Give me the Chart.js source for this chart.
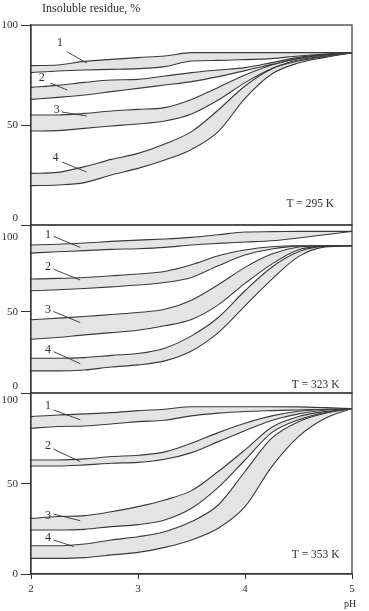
<!DOCTYPE html>
<html>
<head>
<meta charset="utf-8">
<script src="https://cdn.jsdelivr.net/npm/chart.js@4.4.1/dist/chart.umd.min.js"></script>
<style>
  html, body { margin: 0; padding: 0; background: #fff; }
  #wrap { position: relative; width: 369px; height: 611px; }
</style>
</head>
<body>
<div id="wrap"><canvas id="chart" width="369" height="611"></canvas></div>
<script>
// pH grid shared by all curves
const pH = [2.0, 2.25, 2.5, 2.75, 3.0, 3.25, 3.5, 3.75, 4.0, 4.25, 4.5, 4.75, 5.0];

// T = 295 K (hi / lo edge of each band)
const t295_1hi = [79.7, 80.0, 81.8, 82.8, 83.7, 84.5, 86.2, 86.2, 86.2, 86.2, 86.2, 86.2, 86.2];
const t295_1lo = [76.2, 77.0, 77.5, 77.8, 78.2, 79.2, 82.0, 82.3, 82.7, 83.2, 84.5, 85.5, 86.2];
const t295_2hi = [68.8, 69.8, 71.3, 72.5, 72.8, 74.5, 76.2, 77.5, 78.7, 81.2, 83.8, 85.3, 86.2];
const t295_2lo = [62.8, 63.8, 65.0, 66.7, 68.3, 70.0, 71.7, 74.2, 77.2, 80.3, 83.3, 85.0, 86.2];
const t295_3hi = [55.0, 55.0, 55.8, 57.0, 57.8, 58.7, 62.8, 68.8, 75.0, 80.0, 83.3, 85.0, 86.2];
const t295_3lo = [47.0, 47.2, 48.3, 49.5, 50.5, 52.0, 55.5, 62.5, 71.2, 78.3, 82.5, 84.5, 86.2];
const t295_4hi = [25.8, 26.3, 29.2, 32.8, 35.8, 40.5, 46.7, 57.5, 69.5, 78.0, 82.0, 84.3, 86.2];
const t295_4lo = [19.7, 20.0, 21.2, 25.0, 28.3, 32.5, 37.8, 46.7, 63.3, 75.5, 81.0, 83.8, 86.2];

// T = 323 K
const t323_1hi = [91.2, 91.6, 92.4, 93.4, 94.2, 94.9, 95.9, 97.5, 99.2, 99.4, 99.6, 99.6, 99.6];
const t323_1lo = [86.2, 87.0, 87.7, 88.5, 88.9, 89.7, 91.2, 92.2, 93.0, 93.8, 95.5, 97.5, 99.6];
const t323_2hi = [70.2, 70.6, 71.2, 72.2, 73.3, 74.9, 79.0, 84.6, 88.1, 90.1, 90.7, 90.7, 90.7];
const t323_2lo = [63.0, 63.6, 64.4, 65.4, 66.5, 68.1, 71.2, 78.4, 85.0, 88.7, 90.5, 90.7, 90.7];
const t323_3hi = [45.1, 46.1, 47.1, 48.4, 49.6, 51.6, 57.2, 66.7, 77.4, 85.6, 89.9, 90.7, 90.7];
const t323_3lo = [33.1, 34.2, 35.8, 37.2, 38.7, 41.4, 45.3, 54.3, 67.5, 79.4, 88.2, 90.5, 90.7];
const t323_4hi = [21.4, 21.4, 21.8, 23.2, 24.3, 27.6, 35.2, 46.5, 63.0, 77.5, 87.0, 90.5, 90.7];
const t323_4lo = [13.6, 13.6, 14.2, 16.0, 17.3, 19.8, 25.9, 37.2, 53.7, 70.0, 84.0, 90.0, 90.7];

// T = 353 K
const t353_1hi = [87.4, 88.3, 88.9, 89.6, 90.7, 91.5, 92.9, 92.9, 92.9, 92.9, 92.8, 92.4, 91.9];
const t353_1lo = [80.9, 81.9, 82.2, 83.3, 84.6, 85.4, 87.8, 89.3, 90.2, 90.7, 91.1, 91.5, 91.9];
const t353_2hi = [63.3, 63.3, 63.9, 65.2, 65.9, 67.8, 72.6, 78.5, 83.7, 87.8, 90.4, 91.5, 91.9];
const t353_2lo = [60.0, 60.0, 60.6, 61.5, 62.0, 63.7, 67.4, 73.5, 79.6, 85.2, 88.9, 90.9, 91.9];
const t353_3hi = [30.9, 31.9, 32.4, 34.6, 37.4, 41.1, 46.3, 56.9, 68.9, 81.5, 87.4, 90.2, 91.9];
const t353_3lo = [24.4, 24.4, 24.8, 26.3, 27.4, 30.0, 36.5, 48.1, 63.3, 78.5, 85.6, 89.6, 91.9];
const t353_4hi = [15.7, 15.7, 16.7, 18.9, 20.7, 23.5, 29.1, 38.3, 56.9, 75.4, 84.6, 89.3, 91.9];
const t353_4lo = [8.7, 8.7, 9.1, 10.6, 12.0, 14.8, 18.9, 25.4, 37.4, 59.6, 76.3, 86.5, 91.9];

const yTicks = [0, 50, 100];
const xTicks = [2, 3, 4, 5];
const temps = ['T = 295 K', 'T = 323 K', 'T = 353 K'];

const SERIF = '"Liberation Serif", "Times New Roman", serif';
const INK = '#2e2e2e';
const BAND = '#e4e4e4';

// curve numbers with leader lines, in data units
const marks295 = [
  { n: '1', tx: 2.27, ty: 91, x1: 2.34, y1: 86.5, x2: 2.52, y2: 81 },
  { n: '2', tx: 2.10, ty: 73.5, x1: 2.18, y1: 71, x2: 2.34, y2: 67.5 },
  { n: '3', tx: 2.24, ty: 57.5, x1: 2.29, y1: 56.5, x2: 2.52, y2: 54.5 },
  { n: '4', tx: 2.23, ty: 33.5, x1: 2.29, y1: 31.5, x2: 2.52, y2: 26.5 }
];
const marks323 = [
  { n: '1', tx: 2.16, ty: 97.5, x1: 2.21, y1: 96.5, x2: 2.46, y2: 89.7 },
  { n: '2', tx: 2.16, ty: 77.8, x1: 2.21, y1: 76.3, x2: 2.46, y2: 69.6 },
  { n: '3', tx: 2.16, ty: 51, x1: 2.21, y1: 50.2, x2: 2.46, y2: 43.4 },
  { n: '4', tx: 2.16, ty: 26.3, x1: 2.21, y1: 25.5, x2: 2.46, y2: 18.1 }
];
const marks353 = [
  { n: '1', tx: 2.16, ty: 93.3, x1: 2.21, y1: 91.1, x2: 2.46, y2: 85.6 },
  { n: '2', tx: 2.16, ty: 71.1, x1: 2.21, y1: 69.3, x2: 2.46, y2: 62.4 },
  { n: '3', tx: 2.16, ty: 32.2, x1: 2.21, y1: 33.3, x2: 2.46, y2: 29.6 },
  { n: '4', tx: 2.16, ty: 19.8, x1: 2.21, y1: 18.9, x2: 2.40, y2: 15.2 }
];

const panels = [
  { axis: 'y1', temp: temps[0], tempAt: [4.61, 10.5], marks: marks295,
    curves: [[t295_1hi, t295_1lo], [t295_2hi, t295_2lo], [t295_3hi, t295_3lo], [t295_4hi, t295_4lo]] },
  { axis: 'y2', temp: temps[1], tempAt: [4.66, 4.9], marks: marks323,
    curves: [[t323_1hi, t323_1lo], [t323_2hi, t323_2lo], [t323_3hi, t323_3lo], [t323_4hi, t323_4lo]] },
  { axis: 'y3', temp: temps[2], tempAt: [4.66, 10.6], marks: marks353,
    curves: [[t353_1hi, t353_1lo], [t353_2hi, t353_2lo], [t353_3hi, t353_3lo], [t353_4hi, t353_4lo]] }
];

function line(values, axis, fill) {
  return {
    data: values.map((v, i) => ({ x: pH[i], y: v })),
    yAxisID: axis,
    xAxisID: 'x',
    borderColor: '#3a3a3a',
    borderWidth: 1.1,
    pointRadius: 0,
    cubicInterpolationMode: 'monotone',
    fill: fill,
    backgroundColor: BAND
  };
}

const datasets = [];
panels.forEach(p => {
  p.curves.forEach(([hi, lo]) => {
    datasets.push(line(hi, p.axis, false));
    datasets.push(line(lo, p.axis, '-1'));
  });
});

function yAxis(max, weight, order, labels, hide100) {
  return {
    type: 'linear',
    position: 'left',
    stack: 'panels',
    stackWeight: weight,
    weight: order,
    min: 0,
    max: max,
    afterBuildTicks: s => { s.ticks = yTicks.map(v => ({ value: v })); },
    afterFit: s => { s.width = 31; },
    ticks: {
      callback: v => labels[v],
      color: INK,
      font: { family: SERIF, size: 11 },
      padding: 3
    },
    grid: {
      drawOnChartArea: false,
      tickLength: 10,
      color: c => (hide100 && c.tick && c.tick.value === 100) ? 'rgba(0,0,0,0)' : '#333'
    },
    border: { color: '#333', width: 1.2 }
  };
}

const panelDecor = {
  id: 'panelDecor',
  afterDatasetsDraw(chart) {
    const ctx = chart.ctx;
    const xs = chart.scales.x;
    ctx.save();
    panels.forEach(p => {
      const ys = chart.scales[p.axis];
      ctx.strokeStyle = '#333';
      ctx.lineWidth = 1.2;
      ctx.strokeRect(xs.left, ys.top, xs.right - xs.left, ys.bottom - ys.top);

      ctx.fillStyle = INK;
      ctx.font = '12px ' + SERIF;
      ctx.textAlign = 'center';
      ctx.textBaseline = 'middle';
      ctx.lineWidth = 0.9;
      p.marks.forEach(m => {
        ctx.fillText(m.n, xs.getPixelForValue(m.tx), ys.getPixelForValue(m.ty));
        ctx.beginPath();
        ctx.moveTo(xs.getPixelForValue(m.x1), ys.getPixelForValue(m.y1));
        ctx.lineTo(xs.getPixelForValue(m.x2), ys.getPixelForValue(m.y2));
        ctx.stroke();
      });
      ctx.font = '11.5px ' + SERIF;
      ctx.fillText(p.temp, xs.getPixelForValue(p.tempAt[0]), ys.getPixelForValue(p.tempAt[1]));
    });
    ctx.textAlign = 'left';
    ctx.font = '12px ' + SERIF;
    ctx.fillText('Insoluble residue, %', xs.left + 11, 9);
    ctx.textAlign = 'center';
    ctx.font = '10px ' + SERIF;
    ctx.fillText('pH', xs.right - 2, 604);
    ctx.restore();
  }
};

new Chart(document.getElementById('chart'), {
  type: 'line',
  data: { datasets: datasets },
  options: {
    responsive: false,
    animation: false,
    devicePixelRatio: 1,
    layout: { padding: { left: 0, top: 25, right: 17, bottom: 0 } },
    plugins: { legend: { display: false }, tooltip: { enabled: false } },
    scales: {
      x: {
        type: 'linear',
        position: 'bottom',
        min: 2,
        max: 5,
        afterBuildTicks: s => { s.ticks = xTicks.map(v => ({ value: v })); },
        afterFit: s => { s.height = 37; },
        ticks: { color: INK, font: { family: SERIF, size: 11 }, padding: 4 },
        grid: { drawOnChartArea: false, tickLength: 5, color: '#333' },
        border: { color: '#333', width: 1.2 }
      },
      y1: yAxis(100, 200, 3, { 0: ['0', ''], 50: '50', 100: '100' }, false),
      y2: yAxis(103.5, 168, 2, { 0: ['0', ''], 50: '50', 100: ['', '100'] }, true),
      y3: yAxis(100.5, 181, 1, { 0: '0', 50: '50', 100: ['', '100'] }, true)
    }
  },
  plugins: [panelDecor]
});
</script>
</body>
</html>
